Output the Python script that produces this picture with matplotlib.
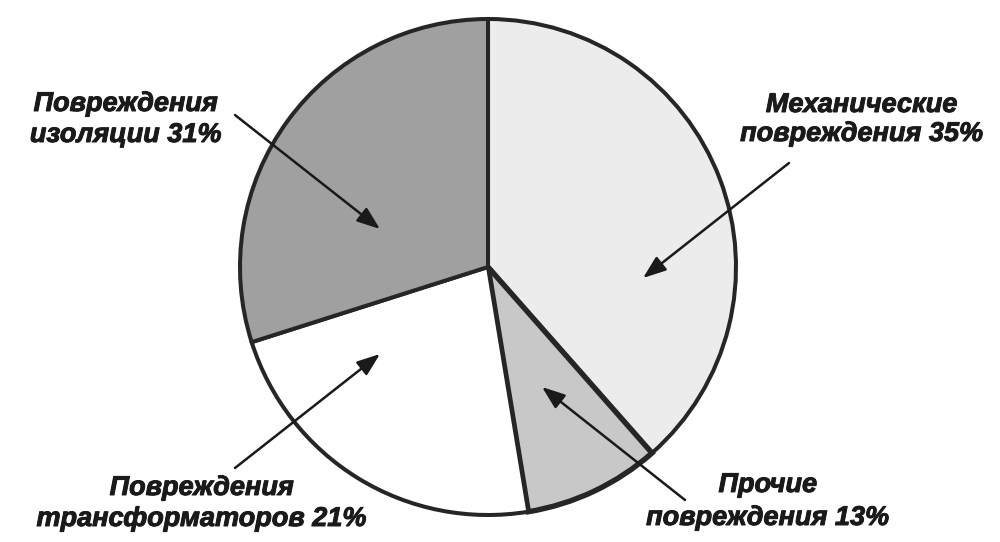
import matplotlib
matplotlib.use("Agg")
import matplotlib.pyplot as plt
import matplotlib.patheffects as pe

# ---- data ----
categories = ["Механические повреждения", "Прочие повреждения",
              "Повреждения трансформаторов", "Повреждения изоляции"]
label_first = ["Механические", "Прочие", "Повреждения", "Повреждения"]
label_second = ["повреждения", "повреждения", "трансформаторов", "изоляции"]
label_pcts = [35, 13, 21, 31]
# slice sizes as drawn in the picture
shares = [38.5, 8.9, 22.7, 29.9]

colors = ["#ececec", "#c8c8c8", "#ffffff", "#a0a0a0"]
edge = "#262626"

W, H = 1000, 542
def P(x, y):
    return (x, H - y)

fig = plt.figure(figsize=(W / 100, H / 100), dpi=100)
ax = fig.add_axes([0, 0, 1, 1])

wedges, _ = ax.pie(shares, colors=colors, startangle=90, counterclock=False,
                   center=P(488, 267), radius=248,
                   wedgeprops=dict(edgecolor=edge, linewidth=2.9))
wedges[1].set_linewidth(3.9)

ax.set_xlim(0, W)
ax.set_ylim(0, H)
ax.set_aspect("equal")
ax.axis("off")

# label layout: (x, baseline1, baseline2, ha)
layout = [(862, 112, 141, "center"),
          (768, 492, 525, "center"),
          (202, 495, 526, "center"),
          (126, 111, 142, "center")]
font = dict(family="Liberation Sans", fontsize=19.5, fontweight="bold",
            fontstyle="italic", color="#1a1a1a",
            path_effects=[pe.withStroke(linewidth=0.7, foreground="#1a1a1a")])
for i in range(len(categories)):
    x, b1, b2, ha = layout[i]
    ax.text(*P(x, b1), label_first[i], ha=ha, va="baseline", **font)
    ax.text(*P(x, b2), f"{label_second[i]} {label_pcts[i]}%", ha=ha,
            va="baseline", **font)

# arrows: (tail, tip)
arrows = [((789, 163), (643, 278)),
          ((685, 500), (542, 387)),
          ((235, 468), (380, 354)),
          ((235, 115), (380, 229))]
for tail, tip in arrows:
    ax.annotate("", xy=P(*tip), xytext=P(*tail),
                arrowprops=dict(arrowstyle="-|>,head_length=0.7,head_width=0.26",
                                mutation_scale=20, color="#1a1a1a", lw=1.8,
                                shrinkA=0, shrinkB=0),
                zorder=5)

fig.savefig("out.png", dpi=100, facecolor="white")
